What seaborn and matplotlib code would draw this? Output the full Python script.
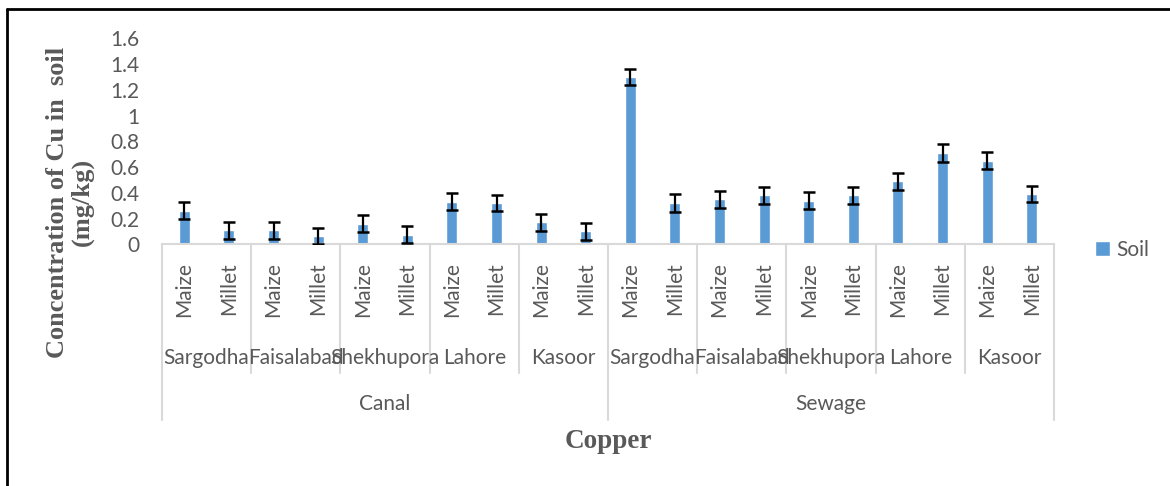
import numpy as np
import pandas as pd
import matplotlib
matplotlib.use("Agg")
import matplotlib.pyplot as plt
import matplotlib.transforms as mtransforms
from matplotlib.lines import Line2D
import seaborn as sns

# data (mg/kg)
sources = ["Canal", "Sewage"]
cities = ["Sargodha", "Faisalabad", "Shekhupora", "Lahore", "Kasoor"]
crops = ["Maize", "Millet"]
values = [0.26, 0.11, 0.11, 0.065, 0.16, 0.075, 0.33, 0.32, 0.17, 0.10,
          1.30, 0.32, 0.35, 0.38, 0.34, 0.38, 0.49, 0.71, 0.65, 0.39]
errors = [0.065, 0.065, 0.065, 0.065, 0.065, 0.065, 0.065, 0.065, 0.065, 0.065,
          0.065, 0.067, 0.065, 0.065, 0.065, 0.065, 0.065, 0.067, 0.067, 0.065]
yticks = [0, 0.2, 0.4, 0.6, 0.8, 1, 1.2, 1.4, 1.6]

rows = []
i = 0
for s in sources:
    for c in cities:
        for cr in crops:
            rows.append({"source": s, "city": c, "crop": cr,
                         "key": f"{s}|{c}|{cr}", "value": values[i]})
            i += 1
df = pd.DataFrame(rows)

sns.set_style("white")
plt.rcParams["font.family"] = ["Lato", "DejaVu Sans"]

W, H = 1170, 486
fig = plt.figure(figsize=(W / 100, H / 100), dpi=100)
ax = fig.add_axes([162 / W, 1 - 244.3 / H, (1054 - 162) / W, 206 / H])

grey = "#595959"
line_grey = "#D9D9D9"
fs = 15
sns.barplot(data=df, x="key", y="value", order=list(df["key"]),
            color="#5B9BD5", saturation=1, width=0.25, errorbar=None, ax=ax)

xs = [p.get_x() + p.get_width() / 2 for p in ax.patches]
hs = [p.get_height() for p in ax.patches]
ax.errorbar(xs, hs, yerr=errors, fmt="none", ecolor="black",
            elinewidth=1.6, capsize=4.5, capthick=1.8, zorder=3)

ax.set_xlim(-0.5, len(df) - 0.5)
ax.set_ylim(0, 1.6)
ax.set_yticks(yticks)
ax.set_yticklabels([f"{t:g}" for t in yticks], fontsize=fs, color=grey)
ax.tick_params(axis="y", length=0, pad=16.5)
ax.set_xticks([])
ax.set_xlabel("")
ax.set_ylabel("")
for side in ["top", "right", "left"]:
    ax.spines[side].set_visible(False)
ax.spines["bottom"].set_color(line_grey)
ax.spines["bottom"].set_linewidth(1.5)

# multi-level category axis
trans = mtransforms.blended_transform_factory(ax.transData, ax.transAxes)
for k, row in df.iterrows():
    ax.text(k, -0.086, row["crop"], transform=trans, rotation=90,
            ha="center", va="top", fontsize=fs, color=grey, clip_on=False)
n_city = len(crops)
for j in range(len(sources) * len(cities)):
    cx = j * n_city + (n_city - 1) / 2
    ax.text(cx, -0.551, cities[j % len(cities)], transform=trans,
            ha="center", va="center", fontsize=fs, color=grey, clip_on=False)
n_src = len(cities) * len(crops)
for j, s in enumerate(sources):
    cx = j * n_src + (n_src - 1) / 2
    ax.text(cx, -0.775, s, transform=trans, ha="center", va="center",
            fontsize=fs, color=grey, clip_on=False)

for b in range(0, len(df) + 1, n_city):
    bottom = -0.853 if b % n_src == 0 else -0.625
    ax.plot([b - 0.5, b - 0.5], [0, bottom], transform=trans,
            color=line_grey, lw=1.5, clip_on=False)

# titles
fig.text(70 / W, 1 - 202 / H, "Concentration of Cu in  soil\n(mg/kg)",
         rotation=90, ha="center", va="center", ma="center",
         family="Liberation Serif", weight="bold", fontsize=19,
         color=grey, linespacing=1.1)
fig.text(608 / W, 1 - 441 / H, "Copper", ha="center", va="center",
         family="Liberation Serif", weight="bold", fontsize=19.5, color=grey)

ax.legend([ax.patches[0]], ["Soil"], loc="center left",
          bbox_to_anchor=(1095 / W, 1 - 250 / H), bbox_transform=fig.transFigure,
          frameon=False, fontsize=fs, labelcolor=grey, borderpad=0,
          borderaxespad=0, handlelength=0.7, handleheight=0.7,
          handletextpad=0.3)

# chart border (cut on right and bottom)
fig.add_artist(Line2D([7 / W, 7 / W], [1 - 9 / H, 0], transform=fig.transFigure,
                      color="black", lw=2))
fig.add_artist(Line2D([7 / W, 1], [1 - 9 / H, 1 - 9 / H], transform=fig.transFigure,
                      color="black", lw=2))

fig.savefig("out.png", dpi=100)
